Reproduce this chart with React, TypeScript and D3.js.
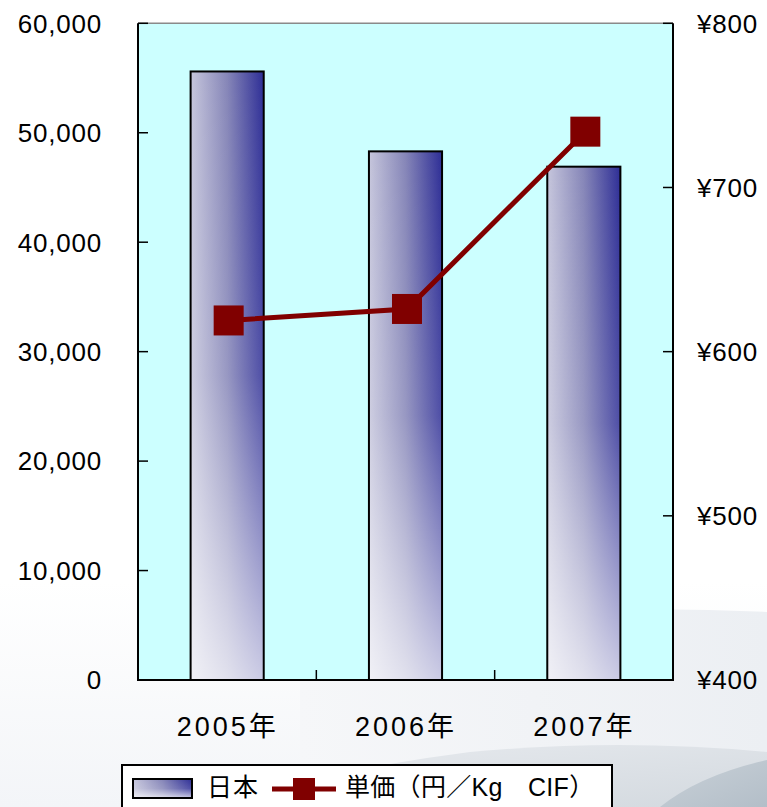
import React from "react";
import * as d3 from "d3";

const categories = ["2005年", "2006年", "2007年"];
const volumes = [55600, 48300, 46900];
const prices = [619, 626, 734];
const leftTicks = [0, 10000, 20000, 30000, 40000, 50000, 60000];
const rightTicks = [400, 500, 600, 700, 800];
const barLegend = "日本";
const lineLegend = "単価（円／Kg　CIF）";

const W = 767;
const H = 807;
const M = { left: 138, right: 673, top: 23.3, bottom: 680 };
const FONT = "'Liberation Sans', 'Noto Sans CJK JP', sans-serif";

export default function App() {
  const x = d3.scaleBand<string>().domain(categories).range([M.left, M.right]).paddingInner(0.59).paddingOuter(0.295);
  const band = d3.scaleBand<string>().domain(categories).range([M.left, M.right]);
  const yL = d3.scaleLinear().domain([0, 60000]).range([M.bottom, M.top]);
  const yR = d3.scaleLinear().domain([400, 800]).range([M.bottom, M.top]);
  const fmt = d3.format(",");
  const cx = (i: number) => (band(categories[i]) as number) + band.bandwidth() / 2 + 1.5;
  const line = d3
    .line<number>()
    .x((_, i) => cx(i))
    .y((d) => yR(d));
  const ms = 30;

  return (
    <svg width={W} height={H} style={{ position: "absolute", left: 0, top: 0 }} fontFamily={FONT}>
      <defs>
        <linearGradient id="bgGrad" x1="0" y1="0" x2="0" y2="1">
          <stop offset="0" stopColor="#ffffff" />
          <stop offset="0.72" stopColor="#ffffff" />
          <stop offset="1" stopColor="#f3f5f8" />
        </linearGradient>
        <linearGradient id="swoosh1" x1="0" y1="0" x2="1" y2="0">
          <stop offset="0" stopColor="#f6f7f9" />
          <stop offset="1" stopColor="#eceff3" />
        </linearGradient>
        <linearGradient id="swoosh2" x1="0" y1="0" x2="1" y2="1">
          <stop offset="0" stopColor="#e8ebef" />
          <stop offset="1" stopColor="#d3d9df" />
        </linearGradient>
        <linearGradient id="swoosh3" x1="0" y1="0" x2="1" y2="1">
          <stop offset="0" stopColor="#c9d1d8" />
          <stop offset="1" stopColor="#b3bec8" />
        </linearGradient>
        <linearGradient id="barH" x1="0" y1="0" x2="1" y2="0">
          <stop offset="0" stopColor="#c6c6dc" />
          <stop offset="0.5" stopColor="#8686b8" />
          <stop offset="1" stopColor="#2e2e96" />
        </linearGradient>
        <linearGradient id="barV" x1="0" y1="0" x2="0" y2="1">
          <stop offset="0" stopColor="#ffffff" stopOpacity="0" />
          <stop offset="0.5" stopColor="#ffffff" stopOpacity="0.15" />
          <stop offset="1" stopColor="#ffffff" stopOpacity="0.75" />
        </linearGradient>
      </defs>

      {/* background */}
      <rect x={0} y={0} width={W} height={H} fill="url(#bgGrad)" />
      <path d={`M 300 ${H} L 300 640 Q 520 600 ${W} 612 L ${W} ${H} Z`} fill="url(#swoosh1)" />
      <path d={`M 200 ${H} Q 330 770 470 752 Q 620 738 ${W} 752 L ${W} ${H} Z`} fill="url(#swoosh2)" />
      <path d={`M 660 ${H} Q 700 775 ${W} 760 L ${W} ${H} Z`} fill="url(#swoosh3)" />

      {/* plot area */}
      <rect x={M.left} y={M.top} width={M.right - M.left} height={M.bottom - M.top} fill="#ccffff" />
      <line x1={M.left} x2={M.right} y1={M.top} y2={M.top} stroke="#8a8a8a" strokeWidth={1.5} />

      {/* bars */}
      {categories.map((c, i) => {
        const bx = x(c) as number;
        const by = yL(volumes[i]);
        const bw = x.bandwidth();
        const bh = M.bottom - by;
        return (
          <g key={c}>
            <rect x={bx} y={by} width={bw} height={bh} fill="url(#barH)" />
            <rect x={bx} y={by} width={bw} height={bh} fill="url(#barV)" stroke="#000" strokeWidth={2} />
          </g>
        );
      })}

      {/* axes */}
      <line x1={M.left} x2={M.left} y1={M.top} y2={M.bottom} stroke="#000" strokeWidth={2} />
      <line x1={M.right} x2={M.right} y1={M.top} y2={M.bottom} stroke="#000" strokeWidth={2} />
      <line x1={M.left - 1} x2={M.right + 1} y1={M.bottom} y2={M.bottom} stroke="#000" strokeWidth={2} />
      {leftTicks.map((t) => (
        <g key={"l" + t}>
          <line x1={M.left} x2={M.left + 10} y1={yL(t)} y2={yL(t)} stroke="#000" strokeWidth={1.5} />
          <text x={102} y={yL(t)} dy="0.36em" textAnchor="end" fontSize={26} letterSpacing={0.8} fill="#000">
            {fmt(t)}
          </text>
        </g>
      ))}
      {rightTicks.map((t) => (
        <g key={"r" + t}>
          <line x1={M.right - 10} x2={M.right} y1={yR(t)} y2={yR(t)} stroke="#000" strokeWidth={1.5} />
          <text x={697} y={yR(t)} dy="0.36em" textAnchor="start" fontSize={26} letterSpacing={0.8} fill="#000">
            {"¥" + t}
          </text>
        </g>
      ))}
      {band
        .domain()
        .slice(1)
        .map((c) => (
          <line key={"t" + c} x1={band(c)} x2={band(c)} y1={M.bottom - 10} y2={M.bottom} stroke="#000" strokeWidth={1.5} />
        ))}
      {categories.map((c, i) => (
        <text
          key={"c" + c}
          x={cx(i) - 52}
          y={726}
          dy="0.36em"
          textAnchor="start"
          fontSize={27}
          letterSpacing={3}
          fill="#000"
        >
          {c}
        </text>
      ))}

      {/* line */}
      <path d={line(prices) || ""} fill="none" stroke="#800000" strokeWidth={5} />
      {prices.map((p, i) => (
        <rect key={"m" + i} x={cx(i) - ms / 2} y={yR(p) - ms / 2} width={ms} height={ms} fill="#800000" />
      ))}

      {/* legend */}
      <rect x={122} y={765} width={490} height={60} fill="#ffffff" stroke="#000" strokeWidth={2} />
      <rect x={133} y={779} width={59} height={19} fill="url(#barH)" />
      <rect x={133} y={779} width={59} height={19} fill="url(#barV)" stroke="#000" strokeWidth={2} />
      <text x={207} y={787} dy="0.36em" fontSize={25} letterSpacing={1} fill="#000">
        {barLegend}
      </text>
      <line x1={272} x2={336} y1={789} y2={789} stroke="#800000" strokeWidth={5} />
      <rect x={293} y={778} width={22} height={22} fill="#800000" />
      <text x={345} y={787} dy="0.36em" fontSize={25} letterSpacing={0.3} fill="#000">
        {lineLegend}
      </text>
    </svg>
  );
}
